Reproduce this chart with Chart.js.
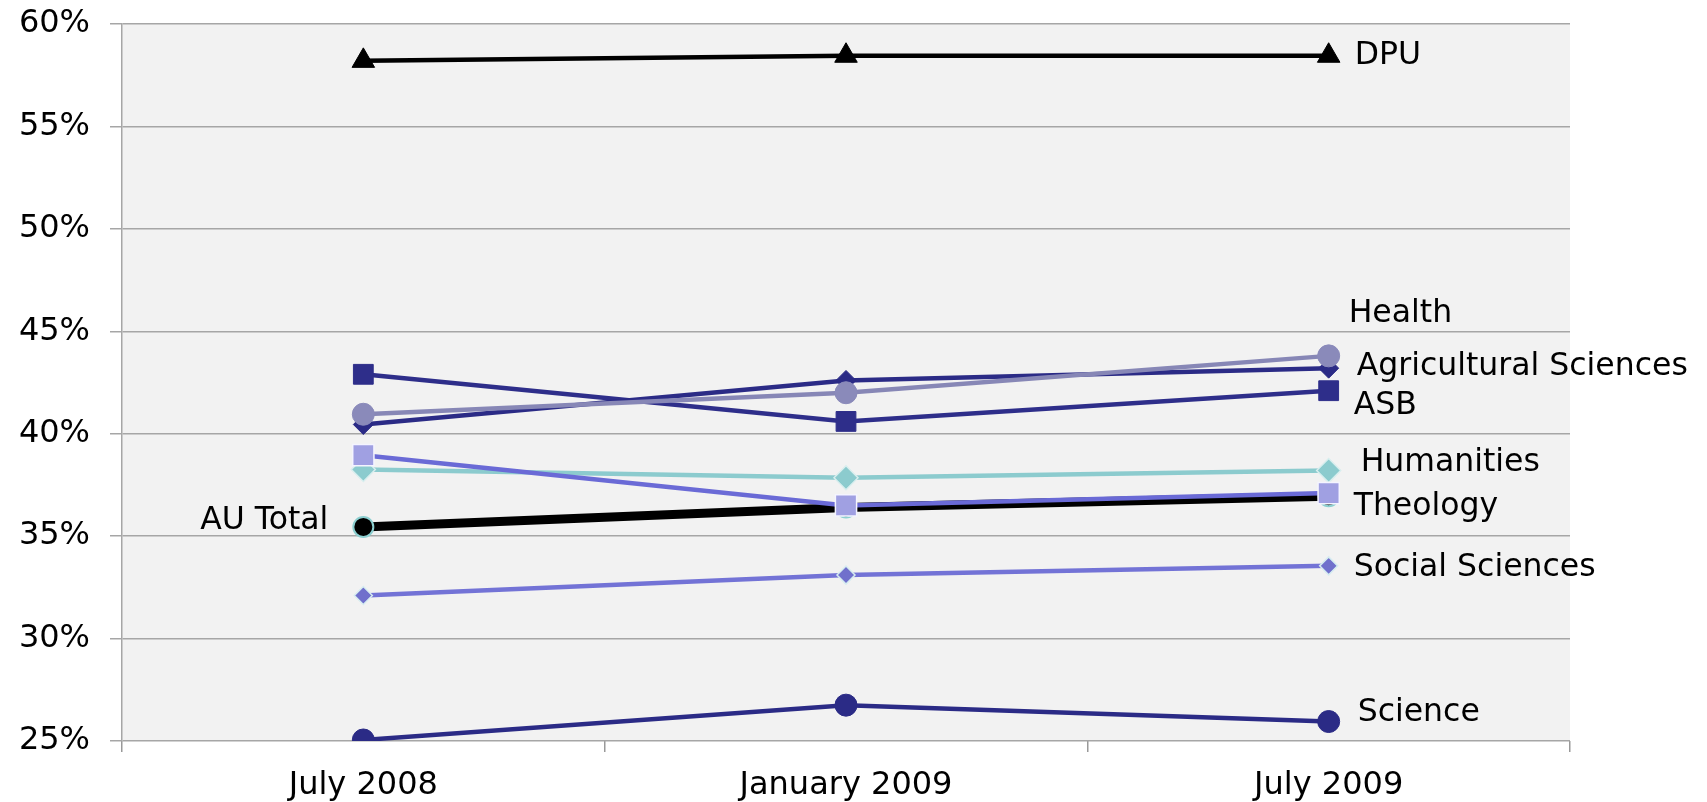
<!DOCTYPE html>
<html>
<head>
<meta charset="utf-8">
<script src="https://cdn.jsdelivr.net/npm/chart.js@4/dist/chart.umd.min.js"></script>
<style>
  html, body { margin: 0; padding: 0; background: #fff; }
  #wrap { width: 1707px; height: 802px; }
</style>
</head>
<body>
<div id="wrap"><canvas id="myChart" width="1707" height="802"></canvas></div>
<script>
// categories and series (percent)
const periods = ["July 2008", "January 2009", "July 2009"];

const dpu = [58.2, 58.45, 58.45];
const health = [40.95, 42.0, 43.8];
const agricultural = [40.45, 42.6, 43.2];
const asb = [42.9, 40.6, 42.1];
const humanities = [38.25, 37.85, 38.2];
const theology = [38.95, 36.5, 37.1];
const auTotal = [35.45, 36.4, 36.95];
const socialSciences = [32.1, 33.1, 33.55];
const science = [25.05, 26.75, 25.95];

const yTicks = [25, 30, 35, 40, 45, 50, 55, 60];

const FONT = "'DejaVu Sans', Verdana, sans-serif";

function series(label, values, opts) {
    return Object.assign({
        label: label,
        data: values,
        borderWidth: 4.5,
        pointBorderWidth: 1,
        pointHoverRadius: 0,
        tension: 0
    }, opts);
}

const datasets = [
    series("Social Sciences", socialSciences, {
        borderColor: "#7373d6", pointBackgroundColor: "#7070cc", pointBorderColor: "#d6ecf0",
        pointStyle: "rectRot", pointRadius: 9, pointBorderWidth: 1.5, labelOffset: [25, 2], order: 1
    }),
    series("Theology", theology, {
        borderColor: "#6a6ad6", pointBackgroundColor: "#a0a0e2", pointBorderColor: "#f4f4ff",
        pointStyle: "rect", pointRadius: 15, pointBorderWidth: 1.5, labelOffset: [25, 14], order: 2
    }),
    series("AU Total", auTotal, {
        borderColor: "#000", borderWidth: 9, pointBackgroundColor: "#000", pointBorderColor: "#8ccfd0",
        pointStyle: "circle", pointRadius: 10, pointBorderWidth: 2, labelOffset: [-35, -6], labelAt: 0, order: 3
    }),
    series("Humanities", humanities, {
        borderColor: "#8ccbce", pointBackgroundColor: "#8ccbce", pointBorderColor: "#d8eeee",
        pointStyle: "rectRot", pointRadius: 12, pointBorderWidth: 1.5, labelOffset: [32, -8], order: 4
    }),
    series("Health", health, {
        borderColor: "#8787b6", pointBackgroundColor: "#8a8aba", pointBorderColor: "#8a8aba",
        pointStyle: "circle", pointRadius: 11, labelOffset: [20, -42], order: 5
    }),
    series("Agricultural Sciences", agricultural, {
        borderColor: "#2b2b86", pointBackgroundColor: "#2b2b86", pointBorderColor: "#2b2b86",
        pointStyle: "rectRot", pointRadius: 10, labelOffset: [28, -1], order: 6
    }),
    series("ASB", asb, {
        borderColor: "#2e2e8a", pointBackgroundColor: "#2e2e8a", pointBorderColor: "#2e2e8a",
        pointStyle: "rect", pointRadius: 14, labelOffset: [25, 15], order: 7
    }),
    series("Science", science, {
        borderColor: "#2b2b86", pointBackgroundColor: "#2b2b86", pointBorderColor: "#2b2b86",
        pointStyle: "circle", pointRadius: 11, labelOffset: [29, -9], order: 8
    }),
    series("DPU", dpu, {
        borderColor: "#000", pointBackgroundColor: "#000", pointBorderColor: "#000",
        pointStyle: "triangle", pointRadius: 13, labelOffset: [26, 0], order: 9
    })
];

// grey plot area
const plotBackground = {
    id: "plotBackground",
    beforeDraw(chart) {
        const a = chart.chartArea;
        const c = chart.ctx;
        c.save();
        c.fillStyle = "#f2f2f2";
        c.fillRect(a.left, a.top, a.right - a.left, a.bottom - a.top);
        c.restore();
    }
};

// series names next to their points
const seriesLabels = {
    id: "seriesLabels",
    afterDatasetsDraw(chart) {
        const c = chart.ctx;
        c.save();
        c.font = "31.5px " + FONT;
        c.fillStyle = "#000";
        c.textBaseline = "middle";
        chart.data.datasets.forEach((ds, i) => {
            const meta = chart.getDatasetMeta(i);
            const idx = ds.labelAt !== undefined ? ds.labelAt : meta.data.length - 1;
            const pt = meta.data[idx];
            const off = ds.labelOffset || [20, 0];
            c.textAlign = off[0] < 0 ? "right" : "left";
            c.fillText(ds.label, pt.x + off[0], pt.y + off[1]);
        });
        c.restore();
    }
};

const config = {
    type: "line",
    data: { labels: periods, datasets: datasets },
    options: {
        responsive: false,
        animation: false,
        layout: { padding: { top: 24, right: 137, bottom: 0, left: 0 } },
        plugins: {
            legend: { display: false },
            tooltip: { enabled: false }
        },
        scales: {
            x: {
                offset: true,
                grid: {
                    offset: true,
                    drawOnChartArea: false,
                    drawTicks: true,
                    tickLength: 11,
                    color: "#999",
                    lineWidth: 1.5
                },
                border: { display: false },
                ticks: {
                    padding: 14,
                    color: "#000",
                    font: { family: FONT, size: 32 }
                },
                afterFit(s) {
                    s.height = 61;
                    s.paddingLeft = 0;
                    s.paddingRight = 0;
                }
            },
            y: {
                min: 25,
                max: 60,
                afterBuildTicks(s) { s.ticks = yTicks.map(v => ({ value: v })); },
                grid: {
                    color: "#a6a6a6",
                    lineWidth: 1.5,
                    tickLength: 12
                },
                border: { display: true, color: "#a6a6a6", width: 1.5 },
                ticks: {
                    padding: 20,
                    color: "#000",
                    font: { family: FONT, size: 32 },
                    callback: v => v + "%"
                },
                afterFit(s) {
                    s.width = 122;
                    s.paddingTop = 0;
                    s.paddingBottom = 0;
                }
            }
        }
    },
    plugins: [plotBackground, seriesLabels]
};

const ctx = document.querySelector("#myChart");
let myChart = new Chart(ctx, config);
</script>
</body>
</html>
